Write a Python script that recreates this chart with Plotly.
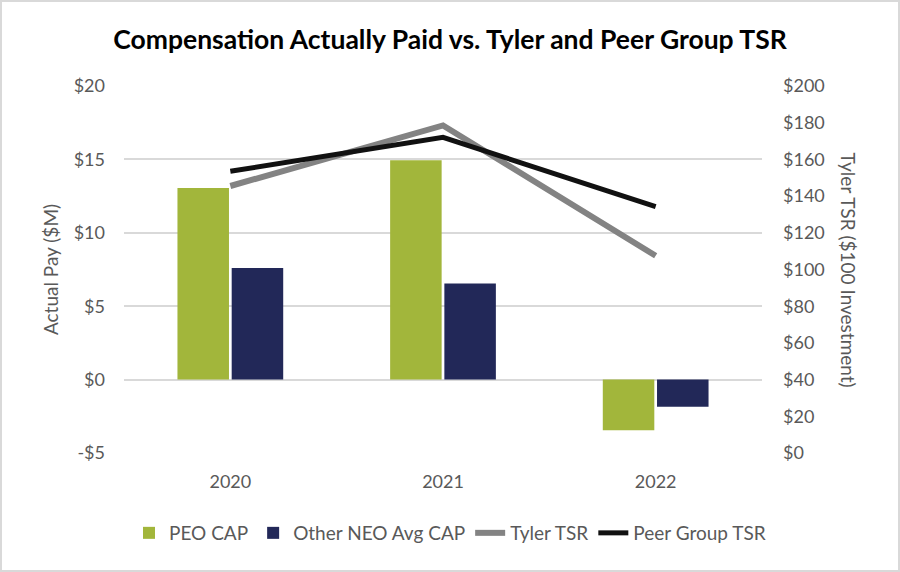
import plotly.graph_objects as go

years = ["2020", "2021", "2022"]
peo_cap = [13.05, 14.95, -3.45]
neo_cap = [7.6, 6.55, -1.85]
tyler_tsr = [145.5, 178.5, 107.5]
peer_tsr = [153.5, 172.0, 134.2]

left_ticks = [-5, 0, 5, 10, 15, 20]
left_labels = ["-$5", "$0", "$5", "$10", "$15", "$20"]
right_ticks = list(range(0, 201, 20))
right_labels = ["$" + str(v) for v in right_ticks]

FONT = "Lato, Open Sans, sans-serif"
GRAY = "#595959"

fig = go.Figure()
fig.add_trace(go.Bar(x=years, y=peo_cap, name="PEO CAP", marker_color="#A2B63B",
                     marker_line_width=0))
fig.add_trace(go.Bar(x=years, y=neo_cap, name="Other NEO Avg CAP", marker_color="#222858",
                     marker_line_width=0))
fig.add_trace(go.Scatter(x=years, y=tyler_tsr, name="Tyler TSR", mode="lines",
                         line=dict(color="#838383", width=6), yaxis="y2"))
fig.add_trace(go.Scatter(x=years, y=peer_tsr, name="Peer Group TSR", mode="lines",
                         line=dict(color="#111111", width=5), yaxis="y2"))

pw = 900 - 124 - 138
ph = 572 - 86 - 119
fig.update_layout(
    width=900, height=572,
    margin=dict(l=124, r=138, t=86, b=119, autoexpand=False),
    paper_bgcolor="white", plot_bgcolor="white",
    font=dict(family=FONT, color=GRAY, size=18),
    title=dict(text="<b>Compensation Actually Paid vs. Tyler and Peer Group TSR</b>",
               x=0.5, xanchor="center", y=1 - 40 / 572, yanchor="middle",
               font=dict(family=FONT, size=26.5, color="#000000")),
    barmode="group", bargap=0.49, bargroupgap=0.05,
    xaxis=dict(showgrid=False, showline=False, ticks="", ticklabelstandoff=16,
               tickfont=dict(size=18, color=GRAY)),
    yaxis=dict(range=[-5, 20], tickvals=left_ticks, ticktext=left_labels,
               showgrid=True, gridcolor="#D9D9D9", gridwidth=2, zeroline=False,
               ticks="", ticklabelstandoff=18, tickfont=dict(size=18, color=GRAY),
               title=dict(text="Actual Pay ($M)", standoff=10, font=dict(size=19, color=GRAY))),
    yaxis2=dict(range=[0, 200], tickvals=right_ticks, ticktext=right_labels,
                overlaying="y", side="right", showgrid=False, zeroline=False,
                ticks="", ticklabelstandoff=20, tickfont=dict(size=18, color=GRAY)),
    legend=dict(orientation="h", xref="container", yref="container",
                x=0.5, xanchor="center", y=(572 - 533) / 572, yanchor="middle",
                font=dict(size=19, color=GRAY), traceorder="normal"),
    annotations=[dict(text="Tyler TSR ($100 Investment)", textangle=90,
                      xref="paper", yref="paper", x=(848 - 124) / pw, y=0.5,
                      xanchor="center", yanchor="middle",
                      showarrow=False, font=dict(size=19, color=GRAY))],
    shapes=[dict(type="rect", xref="paper", yref="paper",
                 x0=-123 / pw, x1=1 + 137 / pw, y0=-118 / ph, y1=1 + 85 / ph,
                 line=dict(color="#D9D9D9", width=2), layer="below")],
)

fig.write_html("out.html", config={"displayModeBar": False},
               post_script="document.body.style.margin='0';")
